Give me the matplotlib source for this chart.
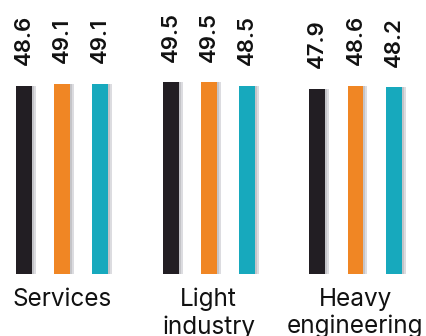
import matplotlib
matplotlib.use("Agg")
import matplotlib.pyplot as plt
import numpy as np

categories = ["Services", "Light\nindustry", "Heavy\nengineering"]
series_a = [48.6, 49.5, 47.9]   # black
series_b = [49.1, 49.5, 48.6]   # orange
series_c = [49.1, 48.5, 48.2]   # teal

colors = ["#221e23", "#f08624", "#17a9bd"]
plt.rcParams['font.family'] = ['Inter', 'DejaVu Sans']

fig = plt.figure(figsize=(4.27, 3.36), dpi=100)
ax = fig.add_axes([0, 62/336, 1, 274/336])
x = np.arange(len(categories))
offs = [-0.26, 0.0, 0.26]
w = 0.109
px = 1/146.75
for vals, off, c in zip([series_a, series_b, series_c], offs, colors):
    # soft shadow
    ax.bar(x + off + 4*px, vals, width=w, color="#dcdce0", zorder=1, linewidth=0)
    ax.bar(x + off + 2*px, vals, width=w, color="#c4c4c8", zorder=1.5, linewidth=0)
    ax.bar(x + off, vals, width=w, color=c, zorder=2, linewidth=0)
    for xi, v in zip(x + off, vals):
        ax.annotate(f"{v:.1f}", (xi, v), xytext=(0, 15), textcoords="offset points",
                    rotation=90, ha="center", va="bottom", fontsize=16,
                    fontweight="semibold", color="#111111")

ax.set_xlim(-62*px, 2 + (427-355.5)*px)
ax.set_ylim(0, 274/3.87)
ax.set_xticks(x)
ax.set_xticklabels(categories, fontsize=17.5, color="#111111", linespacing=1.2)
ax.tick_params(axis="x", length=0, pad=10)
ax.set_yticks([])
for s in ax.spines.values():
    s.set_visible(False)

fig.savefig("out.png", dpi=100)
